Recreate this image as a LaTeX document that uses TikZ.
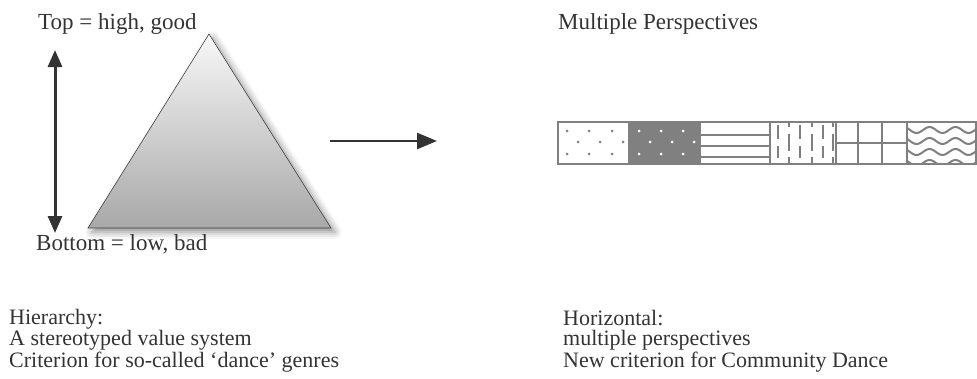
\documentclass[tikz,border=0pt]{standalone}
\usepackage{fontspec}
\setmainfont{Liberation Serif}
\usetikzlibrary{arrows.meta,shadows.blur}
\begin{document}
\begin{tikzpicture}[x=1pt,y=-1pt,every node/.style={font=\fontsize{23}{20}\selectfont,inner sep=0pt,text=black!80}]
\useasboundingbox (0,0) rectangle (977,378);
\shade[top color=gray!6,bottom color=gray!68,draw=black!75,line width=0.6pt,blur shadow={shadow xshift=4pt,shadow yshift=-4pt,shadow blur radius=7pt,shadow opacity=45}] (209,34) -- (331,228) -- (88,228) -- cycle;
\node[anchor=base west] (toplbl) at (38,29) {Top = high, good};
\node[anchor=base west] (botlbl) at (36,250) {Bottom = low, bad};
\coordinate (up) at (55,50);
\coordinate (down) at (55,233);
\draw[{Triangle[length=17pt,width=14pt]}-{Triangle[length=17pt,width=14pt]},line width=3pt,black!80] (up) -- (down);
\coordinate (from) at (330,141);
\coordinate (to) at (437,141);
\draw[-{Triangle[length=20pt,width=16pt]},line width=2.5pt,black!80] (from) -- (to);
\node[anchor=base west] (multi) at (558,29) {Multiple Perspectives};
\fill[gray] (629,122) rectangle (700,164);
\foreach \x in {567,589,612} {\fill[gray] (\x,131) circle (1.5); \fill[gray] (\x,154) circle (1.5);}
\foreach \x in {578,600,623} \fill[gray] (\x,142) circle (1.5);
\foreach \x in {639,661,683} {\fill[white] (\x,131) circle (1.5); \fill[white] (\x,154) circle (1.5);}
\foreach \x in {650,672,694} \fill[white] (\x,142) circle (1.5);
\foreach \y in {135,146,157} \draw[gray,line width=2.4pt] (700,\y) -- (770,\y);
\foreach \x in {778,800,823} {\draw[gray,line width=2.4pt] (\x,125) -- (\x,139); \draw[gray,line width=2.4pt] (\x,146) -- (\x,158);}
\foreach \x in {789,812,833} {\draw[gray,line width=2.4pt] (\x,122) -- (\x,127); \draw[gray,line width=2.4pt] (\x,134) -- (\x,151); \draw[gray,line width=2.4pt] (\x,157) -- (\x,164);}
\foreach \x in {858,882} \draw[gray,line width=2.4pt] (\x,122) -- (\x,164);
\draw[gray,line width=2.4pt] (836,143) -- (907,143);
\begin{scope}
\clip (907,122) rectangle (976,164);
\foreach \y in {130,141,152,163} \draw[gray,line width=2pt] plot[domain=900:980,samples=60] (\x,{\y+3*sin(\x/26*360)});
\end{scope}
\foreach \x in {629,700,770,836,907} \draw[gray,line width=2.4pt] (\x,122) -- (\x,164);
\draw[gray,line width=2.8pt] (558,122) rectangle (976,164);
\node[anchor=base west,align=left,font=\fontsize{22}{20}\selectfont] (hier) at (9,367) {Hierarchy:\\A stereotyped value system\\Criterion for so-called ‘dance’ genres};
\node[anchor=base west,align=left,font=\fontsize{22}{20}\selectfont] (horiz) at (563,367) {Horizontal:\\multiple perspectives\\New criterion for Community Dance};
\end{tikzpicture}
\end{document}
